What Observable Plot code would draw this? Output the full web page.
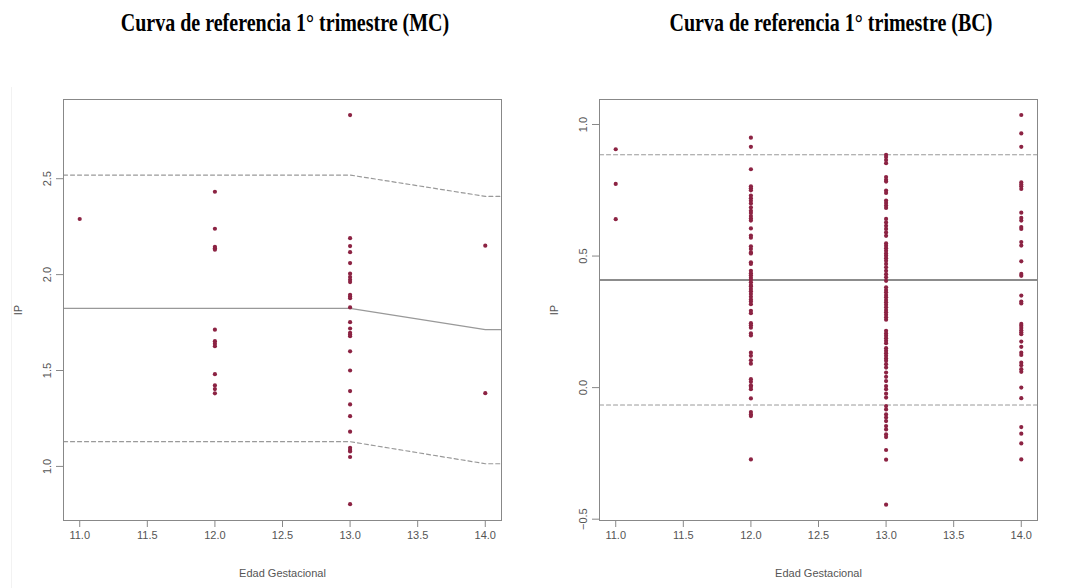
<!DOCTYPE html>
<html><head><meta charset="utf-8">
<script src="https://cdn.jsdelivr.net/npm/d3@7"></script>
<script src="https://cdn.jsdelivr.net/npm/@observablehq/plot@0.6"></script>
<style>
body{margin:0;background:#fff;width:1079px;height:588px;position:relative;overflow:hidden;font-family:"Liberation Sans",Arial,sans-serif}
.title{position:absolute;top:10px;font-family:"Liberation Serif","Times New Roman",serif;font-weight:bold;font-size:20px;color:#000;text-align:center;width:540px;line-height:24px;transform:scaleY(1.25);transform-origin:center center}
.panel{position:absolute;top:40px}
.edge{position:absolute;left:11px;top:87px;width:1px;height:501px;background:#f2f2f2}
</style></head><body>
<div class="title" id="t1" style="left:15px"></div>
<div class="title" id="t2" style="left:561px"></div>
<div class="panel" id="p1" style="left:0px"></div>
<div class="panel" id="p2" style="left:540px"></div>
<div class="edge"></div>
<script>
// ---- texts ----
const titleMC = "Curva de referencia 1° trimestre (MC)";
const titleBC = "Curva de referencia 1° trimestre (BC)";
const xLabel = "Edad Gestacional";
const yLabel = "IP";

// ---- ticks ----
const xTicks = [11.0, 11.5, 12.0, 12.5, 13.0, 13.5, 14.0];
const yTicksMC = [1.0, 1.5, 2.0, 2.5];
const yTicksBC = [-0.5, 0.0, 0.5, 1.0];

// ---- MC observations by gestational week ----
const mcW11 = [2.29];
const mcW12 = [2.432, 2.239, 2.145, 2.137, 2.13, 1.713, 1.653, 1.64, 1.627, 1.481, 1.422, 1.403, 1.381];
const mcW13 = [2.832, 2.19, 2.149, 2.117, 2.06, 2.005, 1.987, 1.973, 1.961, 1.895, 1.886, 1.877, 1.829,
  1.752, 1.719, 1.697, 1.688, 1.679, 1.6, 1.5, 1.393, 1.323, 1.262, 1.181, 1.097, 1.086, 1.078, 1.049, 0.803];
const mcW14 = [2.151, 1.382];

// ---- BC observations by gestational week ----
const bcW11 = [0.906, 0.774, 0.64];
const bcW12 = [0.95, 0.915, 0.83, 0.765, 0.758, 0.75, 0.73, 0.72, 0.71, 0.70, 0.685, 0.672, 0.664, 0.652,
  0.643, 0.635, 0.605, 0.578, 0.57, 0.537, 0.527, 0.514, 0.51, 0.476, 0.47, 0.444, 0.435, 0.427, 0.418,
  0.41, 0.40, 0.39, 0.385, 0.375, 0.366, 0.356, 0.345, 0.335, 0.327, 0.317, 0.292, 0.283, 0.245, 0.237,
  0.228, 0.206, 0.198, 0.133, 0.121, 0.104, 0.091, 0.032, 0.022, 0.009, 0.003, -0.006, -0.041, -0.093,
  -0.102, -0.108, -0.273];
const bcW13 = [0.885, 0.876, 0.865, 0.853, 0.80, 0.79, 0.783, 0.749, 0.74, 0.711, 0.702, 0.692, 0.683,
  0.641, 0.628, 0.615, 0.603, 0.59, 0.577, 0.548, 0.539, 0.53, 0.52, 0.51, 0.501, 0.492, 0.482, 0.47,
  0.457, 0.444, 0.431, 0.419, 0.406, 0.381, 0.371, 0.362, 0.352, 0.343, 0.333, 0.324, 0.315, 0.305,
  0.295, 0.286, 0.277, 0.267, 0.258, 0.216, 0.206, 0.197, 0.188, 0.178, 0.169, 0.15, 0.14, 0.131, 0.121,
  0.111, 0.102, 0.089, 0.076, 0.057, 0.041, 0.025, 0.006, -0.006, -0.023, -0.038, -0.07, -0.083, -0.102,
  -0.114, -0.127, -0.146, -0.159, -0.178, -0.188, -0.237, -0.274, -0.445];
const bcW14 = [1.036, 0.966, 0.915, 0.78, 0.772, 0.765, 0.755, 0.665, 0.645, 0.635, 0.61, 0.603, 0.553,
  0.54, 0.48, 0.432, 0.425, 0.35, 0.327, 0.32, 0.242, 0.235, 0.227, 0.218, 0.21, 0.203, 0.175, 0.155,
  0.133, 0.124, 0.095, 0.085, 0.07, 0.06, 0.0, -0.04, -0.15, -0.175, -0.212, -0.273];

// ---- reference curves (median and limits) ----
const refWeeks = [10, 11, 12, 13, 14, 15];
const mcMedian = [1.824, 1.824, 1.824, 1.824, 1.713, 1.713];
const mcUpper  = [2.519, 2.519, 2.519, 2.519, 2.408, 2.408];
const mcLower  = [1.129, 1.129, 1.129, 1.129, 1.014, 1.014];
const bcMedian = [0.409, 0.409, 0.409, 0.409, 0.409, 0.409];
const bcUpper  = [0.885, 0.885, 0.885, 0.885, 0.885, 0.885];
const bcLower  = [-0.066, -0.066, -0.066, -0.066, -0.066, -0.066];

const pointColor = "#8c2343";

function rows(byWeek) {
  const out = [];
  for (const [w, vals] of byWeek) for (const v of vals) out.push({week: w, ip: v});
  return out;
}
function curve(vals) { return refWeeks.map((w, i) => ({week: w, ip: vals[i]})); }

function panel(points, med, up, lo, yDomain, yTicks, width, ml, mr, medColor) {
  return Plot.plot({
    width, height: 548,
    marginLeft: ml, marginRight: mr, marginTop: 59, marginBottom: 68,
    style: {color: "#555", fontFamily: "'Liberation Sans', Arial, sans-serif", fontSize: "11px", background: "white"},
    x: {domain: [10.88, 14.12]},
    y: {domain: yDomain},
    marks: [
      Plot.line(curve(up), {x: "week", y: "ip", stroke: "#999", strokeWidth: 1.2, strokeDasharray: "4,3", clip: true}),
      Plot.line(curve(lo), {x: "week", y: "ip", stroke: "#999", strokeWidth: 1.2, strokeDasharray: "4,3", clip: true}),
      Plot.line(curve(med), {x: "week", y: "ip", stroke: medColor, strokeWidth: 1.3, clip: true}),
      Plot.dot(points, {x: "week", y: "ip", r: 2.1, fill: pointColor, stroke: "none"}),
      Plot.frame({stroke: "#888", strokeWidth: 1}),
      Plot.axisX({ticks: xTicks, tickFormat: d3.format(".1f"), tickSize: 7, tickPadding: 4, stroke: "#888",
        label: xLabel, labelAnchor: "center", labelArrow: "none", labelOffset: 56, fontSize: 11}),
      Plot.axisY({ticks: yTicks, tickFormat: d3.format(".1f"), tickSize: 7, tickPadding: 6, tickRotate: -90, stroke: "#888",
        label: yLabel, labelAnchor: "center", labelArrow: "none", labelOffset: 49, fontSize: 11})
    ]
  });
}

document.getElementById("t1").textContent = titleMC;
document.getElementById("t2").textContent = titleBC;

document.getElementById("p1").append(panel(
  rows([[11, mcW11], [12, mcW12], [13, mcW13], [14, mcW14]]),
  mcMedian, mcUpper, mcLower, [0.718, 2.913], yTicksMC, 540, 63, 39, "#999"));
document.getElementById("p2").append(panel(
  rows([[11, bcW11], [12, bcW12], [13, bcW13], [14, bcW14]]),
  bcMedian, bcUpper, bcLower, [-0.505, 1.095], yTicksBC, 539, 59, 42, "#666"));
</script>
</body></html>
